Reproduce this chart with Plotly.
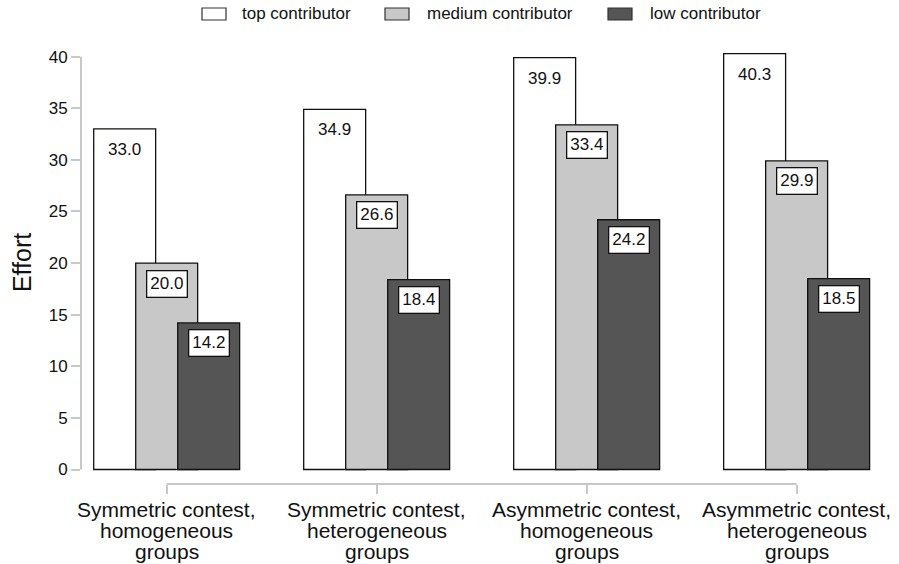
import plotly.graph_objects as go

categories = ["Symmetric contest,<br>homogeneous<br>groups",
              "Symmetric contest,<br>heterogeneous<br>groups",
              "Asymmetric contest,<br>homogeneous<br>groups",
              "Asymmetric contest,<br>heterogeneous<br>groups"]
series_names = ["top contributor", "medium contributor", "low contributor"]
top_vals = [33.0, 34.9, 39.9, 40.3]
medium_vals = [20.0, 26.6, 33.4, 29.9]
low_vals = [14.2, 18.4, 24.2, 18.5]
y_ticks = [0, 5, 10, 15, 20, 25, 30, 35, 40]

series = [top_vals, medium_vals, low_vals]
colors = ["#ffffff", "#c8c8c8", "#555555"]
centers = [-0.2, 0.0, 0.2]
bar_w = 0.295
FONT = "Liberation Sans, Arial, sans-serif"
AX = "#c8c8c8"

fig = go.Figure()
xs = list(range(len(categories)))
for name, vals, col, c in zip(series_names, series, colors, centers):
    fig.add_trace(go.Bar(
        x=xs, y=vals, name=name, width=bar_w, offset=c - bar_w / 2,
        marker=dict(color=col, line=dict(color="#111111", width=1.3)),
        showlegend=False, hoverinfo="y"))

annotations = []
# value labels
for k, (vals, c) in enumerate(zip(series, centers)):
    for i, v in enumerate(vals):
        a = dict(x=i + c, y=v, xref="x", yref="y", text=f"{v:.1f}",
                 showarrow=False, yanchor="middle", yshift=-20.5,
                 font=dict(family=FONT, size=17, color="#111111"))
        if k > 0:
            a.update(bgcolor="#ffffff", bordercolor="#111111", borderwidth=1.3, borderpad=3)
        annotations.append(a)

# category labels, one line each
for i, cat in enumerate(categories):
    for j, line in enumerate(cat.split("<br>")):
        annotations.append(dict(x=i, y=0, xref="x", yref="paper", text=line,
                                showarrow=False, yanchor="middle", yshift=-25 - 21 * j,
                                font=dict(family=FONT, size=21, color="#111111")))

# y title
annotations.append(dict(x=0, y=20, xref="paper", yref="y", text="Effort", textangle=-90,
                        showarrow=False, xanchor="center", yanchor="middle", xshift=-59,
                        font=dict(family=FONT, size=25, color="#111111")))

# custom legend
shapes = []
leg_box_x = [202, 385, 608]
leg_txt_x = [240, 425, 648]
W = 899.0
H = 564.0
ml, mr, mt, mb = 81, 19, 45, 80
pw, ph = W - ml - mr, H - mt - mb
for name, col, bx, tx in zip(series_names, colors, leg_box_x, leg_txt_x):
    shapes.append(dict(type="rect", xref="paper", yref="paper",
                       x0=(bx - ml) / pw, x1=(bx + 24 - ml) / pw,
                       y0=(H - mb - 20) / ph, y1=(H - mb - 8) / ph,
                       fillcolor=col, line=dict(color="#333333", width=1.2)))
    annotations.append(dict(x=(tx - ml) / pw, y=(H - mb - 14) / ph, xref="paper", yref="paper",
                            text=name, showarrow=False, xanchor="left", yanchor="middle",
                            font=dict(family=FONT, size=17, color="#111111")))

# axis lines
shapes.append(dict(type="line", xref="paper", yref="y", x0=0, x1=0, y0=0, y1=40,
                   line=dict(color=AX, width=2)))
shapes.append(dict(type="line", xref="x", yref="paper", x0=0, x1=len(categories) - 1, y0=0, y1=0,
                   line=dict(color=AX, width=2)))

fig.update_layout(
    width=899, height=564,
    margin=dict(l=ml, r=mr, t=mt, b=mb),
    paper_bgcolor="white", plot_bgcolor="white",
    barmode="overlay",
    annotations=annotations, shapes=shapes,
    font=dict(family=FONT, color="#111111"),
    xaxis=dict(range=[-0.408, 3.397], tickvals=xs, showticklabels=False,
               ticks="outside", ticklen=9, tickwidth=2, tickcolor=AX,
               showgrid=False, zeroline=False, showline=False, fixedrange=True),
    yaxis=dict(range=[-1.405, 41.13], tickvals=y_ticks,
               ticks="outside", ticklen=9, tickwidth=2, tickcolor=AX,
               tickfont=dict(family=FONT, size=17, color="#111111"),
               showgrid=False, zeroline=False, showline=False, fixedrange=True),
)

fig.write_html("out.html", config={"displayModeBar": False},
               post_script="document.body.style.margin='0';document.body.style.padding='0';")
